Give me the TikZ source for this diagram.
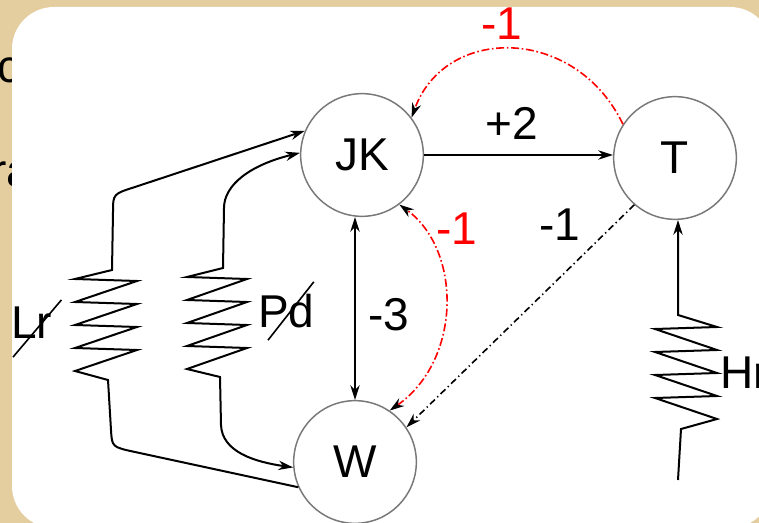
\documentclass[tikz,border=0pt]{standalone}
\usepackage{fontspec}
\setmainfont{Liberation Sans}
\usetikzlibrary{arrows.meta}

\definecolor{slidebg}{RGB}{228,205,158}
\definecolor{ringgray}{RGB}{120,120,120}

\begin{document}
\begin{tikzpicture}[x=0.75pt,y=0.75pt,yscale=-1,xscale=1,
  every node/.style={font=\fontsize{34.5}{40}\selectfont,inner sep=0pt},
  >={Stealth[length=11pt,width=7pt]},
  state/.style={circle,draw=ringgray,line width=1.1pt,minimum size=92pt},
  wire/.style={line width=1.5pt},
  redlink/.style={red,line width=1.2pt,dash pattern=on 6pt off 2pt on 1.2pt off 2pt,>={Stealth[length=11pt,width=7pt,color=black]}},
  dotlink/.style={black,line width=1.2pt,dash pattern=on 5pt off 2.5pt on 1pt off 2.5pt}]

\useasboundingbox (0,0) rectangle (759,523);
\fill[slidebg] (0,0) rectangle (759,523);
\node[anchor=base west] (bgc) at (-3,83) {c};
\node[anchor=base west] (bgra) at (-9,187) {ra};
\fill[white,rounded corners=31.5pt] (12,7) rectangle (772,528);

\node[state] (jk) at (362,155) {JK};
\node[state] (t) at (675,158) {T};
\node[state] (w) at (355,462) {W};

\coordinate (lrtop) at (112,270);
\coordinate (pdtop) at (223,268);
\coordinate (hrtop) at (678,315);
\coordinate (hrend) at (678,480);

\draw[wire,->] (jk.east) -- (jk.east -| t.west);
\draw[wire,<->] (w.north) -- (w.north |- jk.south);
\draw[redlink,->] (t.147) .. controls (575,25) and (445,25) .. (jk.37);
\draw[redlink,<->] (w.56) .. controls (462,360) and (462,250) .. (jk.-53);
\draw[dotlink,->] (t.229) -- (w.34);

\draw[wire,<-] (jk.157) -- (135,187) .. controls (113,194) .. (113,212) -- (lrtop) -- ++(-37,9)
  foreach \k in {1,...,4} { -- ++(62,2) -- ++(-62,21) } -- ++(33,9) -- (111,430) .. controls (112,447) .. (135,452) -- (w.204);
\draw[wire,<->] (jk.178) .. controls (250,165) and (224,185) .. (224,208) -- (pdtop) -- ++(-36,9)
  foreach \k in {1,...,4} { -- ++(60,2) -- ++(-60,21) } -- ++(33,8) -- (221,425) .. controls (222,452) and (255,462) .. (w.185);
\draw[wire,<-] (t.south -| hrtop) -- (hrtop) -- ++(39,12)
  foreach \k in {1,...,4} { -- ++(-62,2) -- ++(62,21) } -- ++(-36,10) -- (hrend);

\node (plustwo) at (512,123) {+2};
\node[text=red] (minustop) at (502,24) {-1};
\node[text=red] (minusmid) at (457,229) {-1};
\node (minusdiag) at (560,225) {-1};
\node (minusthree) at (389,315) {-3};

\node[anchor=west] (lrlbl) at (11,323) {Lr};
\draw[line width=1.2pt] ([shift={(2,18)}]lrlbl.south west) -- ([shift={(9,-7)}]lrlbl.north east);
\node[anchor=west] (pdlbl) at (258,311) {Pd};
\draw[line width=1.2pt] ([shift={(10,12)}]pdlbl.south west) -- ([shift={(-1,-12)}]pdlbl.north east);
\node[anchor=west] (hrlbl) at (720,373) {Hr};

\end{tikzpicture}
\end{document}
